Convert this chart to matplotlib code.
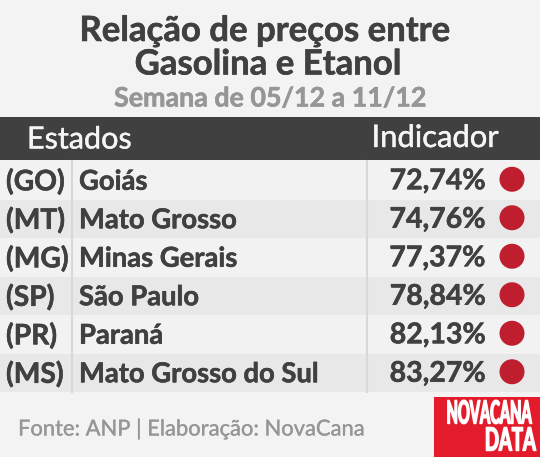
import matplotlib
matplotlib.use('Agg')
import matplotlib.pyplot as plt
from matplotlib.patches import Rectangle, Ellipse
from matplotlib.transforms import Affine2D
import matplotlib.patheffects as pe

plt.rcParams['font.family'] = ['Lato', 'DejaVu Sans']

# table data
siglas = ['(GO)', '(MT)', '(MG)', '(SP)', '(PR)', '(MS)']
estados = ['Goiás', 'Mato Grosso', 'Minas Gerais', 'São Paulo', 'Paraná', 'Mato Grosso do Sul']
indicador = [72.74, 74.76, 77.37, 78.84, 82.13, 83.27]

DARK = '#404040'
GREY = '#969696'
RED = '#bf1e2e'

fig = plt.figure(figsize=(5.4, 4.57), dpi=100, facecolor='#f3f3f3')
ax = fig.add_axes([0, 0, 1, 1])
ax.set_xlim(0, 540)
ax.set_ylim(457, 0)
ax.axis('off')

# thickens text a bit, the reference is heavier than what Lato bold gives here
def thick(t, w=0.4):
    t.set_path_effects([pe.withStroke(linewidth=w, foreground=t.get_color())])

# narrow letters for the logo, squeezed around the right edge
class Squeeze(pe.AbstractPathEffect):
    def __init__(self, sx, xa):
        super().__init__()
        self.sx = sx
        self.xa = xa

    def draw_path(self, renderer, gc, tpath, affine, rgbFace=None):
        squeeze = Affine2D().translate(-self.xa, 0).scale(self.sx, 1).translate(self.xa, 0)
        gc2 = renderer.new_gc()
        gc2.copy_properties(gc)
        gc2.set_linewidth(1.0)
        gc2.set_foreground(rgbFace)
        renderer.draw_path(gc2, tpath, affine + squeeze, rgbFace)
        gc2.restore()

# title
thick(ax.text(265, 31, 'Relação de preços entre', ha='center', va='center', fontsize=25, fontweight='bold', color=DARK))
thick(ax.text(268, 64.5, 'Gasolina e Etanol', ha='center', va='center', fontsize=25, fontweight='bold', color=DARK))
thick(ax.text(270, 98.5, 'Semana de 05/12 a 11/12', ha='center', va='center', fontsize=19.3, fontweight='bold', color=GREY))

# header
ax.add_patch(Rectangle((0, 117), 540, 43, color=DARK, lw=0))
thick(ax.text(27, 139.5, 'Estados', ha='left', va='center', fontsize=22, color='#f5f5f5'), 0.3)
thick(ax.text(371.5, 138, 'Indicador', ha='left', va='center', fontsize=22.3, color='#f5f5f5'), 0.3)

# rows
top = 161
row_h = 38.5
for i in range(len(estados)):
    y0 = top + i * row_h
    yc = y0 + row_h / 2
    ax.add_patch(Rectangle((0, y0), 540, row_h, color='#e8e8e8' if i % 2 else '#f2f2f2', lw=0))
    thick(ax.text(6, yc + 1.5, siglas[i], ha='left', va='center', fontsize=20.3, fontweight='bold', color=DARK))
    thick(ax.text(79, yc + 1.5, estados[i], ha='left', va='center', fontsize=19.7, fontweight='bold', color=DARK))
    valor = f'{indicador[i]:.2f}'.replace('.', ',') + '%'
    thick(ax.text(486, yc + 1, valor, ha='right', va='center', fontsize=20.5, fontweight='bold', color=DARK))
    ax.add_patch(Ellipse((512, yc - 1), 25, 25, color=RED, lw=0))

# column separators
for x in [72, 366.5]:
    ax.plot([x, x], [top, top + 6 * row_h], color='#d8d8d8', lw=1.5)

# footer
thick(ax.text(18, 429.5, 'Fonte: ANP | Elaboração: NovaCana', ha='left', va='center', fontsize=15.8, color=GREY), 0.2)

# logo
ax.add_patch(Rectangle((434, 397), 106, 60, color='#e31b2a', lw=0))
t1 = ax.text(533, 414, 'NOVACANA', ha='right', va='center', fontsize=23, fontweight='bold', color='white')
t1.set_path_effects([Squeeze(0.46, 531)])
t2 = ax.text(536, 441, 'DATA', ha='right', va='center', fontsize=23, fontweight='bold', color='white')
t2.set_path_effects([Squeeze(0.58, 536)])

fig.savefig('out.png', dpi=100, facecolor=fig.get_facecolor())
